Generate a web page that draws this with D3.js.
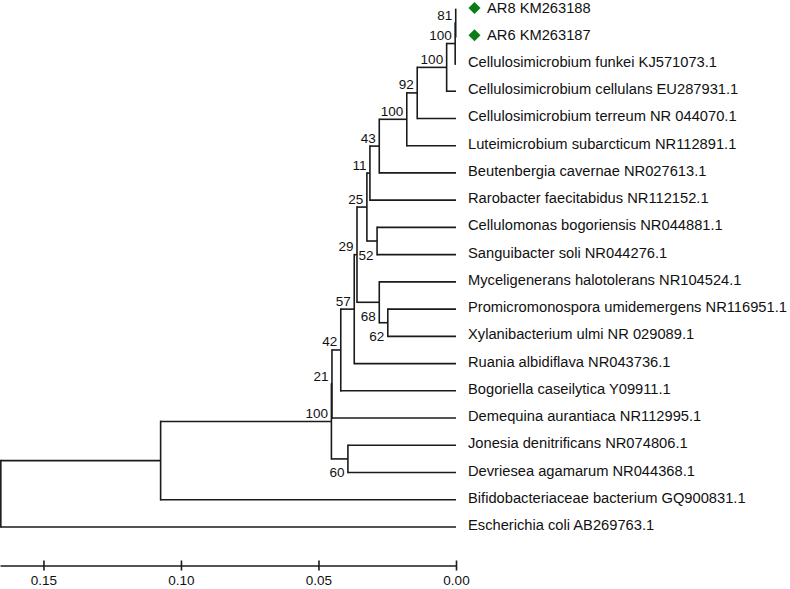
<!DOCTYPE html>
<html>
<head>
<meta charset="utf-8">
<script src="https://cdn.jsdelivr.net/npm/d3@7"></script>
<style>
  html, body { margin: 0; padding: 0; background: #fff; }
  svg { display: block; }
  text { font-family: "Liberation Sans", Arial, sans-serif; fill: #111; }
</style>
</head>
<body>
<svg id="chart" width="790" height="589"></svg>
<script>
// ---- Data ----
const leaves = [
  "AR8 KM263188",
  "AR6 KM263187",
  "Cellulosimicrobium funkei KJ571073.1",
  "Cellulosimicrobium cellulans EU287931.1",
  "Cellulosimicrobium terreum NR 044070.1",
  "Luteimicrobium subarcticum NR112891.1",
  "Beutenbergia cavernae NR027613.1",
  "Rarobacter faecitabidus NR112152.1",
  "Cellulomonas bogoriensis NR044881.1",
  "Sanguibacter soli NR044276.1",
  "Myceligenerans halotolerans NR104524.1",
  "Promicromonospora umidemergens NR116951.1",
  "Xylanibacterium ulmi NR 029089.1",
  "Ruania albidiflava NR043736.1",
  "Bogoriella caseilytica Y09911.1",
  "Demequina aurantiaca NR112995.1",
  "Jonesia denitrificans NR074806.1",
  "Devriesea agamarum NR044368.1",
  "Bifidobacteriaceae bacterium GQ900831.1",
  "Escherichia coli AB269763.1"
];
const highlighted = ["AR8 KM263188", "AR6 KM263187"];

// internal nodes: id, children (leaf names or node ids), height (distance), bootstrap
const nodeIds = ["n1","n2","n3","n4","n5","n6","n7","n8","n9","n10","n11","n12","n13","n14","n15","n17","n16","n18","n19"];
const nodeChildren = [
  ["AR8 KM263188", "AR6 KM263187"],
  ["n1", "Cellulosimicrobium funkei KJ571073.1"],
  ["n2", "Cellulosimicrobium cellulans EU287931.1"],
  ["n3", "Cellulosimicrobium terreum NR 044070.1"],
  ["n4", "Luteimicrobium subarcticum NR112891.1"],
  ["n5", "Beutenbergia cavernae NR027613.1"],
  ["n6", "Rarobacter faecitabidus NR112152.1"],
  ["Cellulomonas bogoriensis NR044881.1", "Sanguibacter soli NR044276.1"],
  ["n7", "n8"],
  ["Promicromonospora umidemergens NR116951.1", "Xylanibacterium ulmi NR 029089.1"],
  ["Myceligenerans halotolerans NR104524.1", "n10"],
  ["n9", "n11"],
  ["n12", "Ruania albidiflava NR043736.1"],
  ["n13", "Bogoriella caseilytica Y09911.1"],
  ["n14", "Demequina aurantiaca NR112995.1"],
  ["Jonesia denitrificans NR074806.1", "Devriesea agamarum NR044368.1"],
  ["n15", "n17"],
  ["n16", "Bifidobacteriaceae bacterium GQ900831.1"],
  ["n18", "Escherichia coli AB269763.1"]
];
const nodeHeights = [0.0001, 0.0003, 0.0034, 0.0141, 0.0179, 0.0279, 0.0313, 0.0287, 0.0324,
                     0.0248, 0.0279, 0.0360, 0.0370, 0.0419, 0.0451, 0.0393, 0.0453, 0.1074, 0.1655];
const nodeBootstrap = [81, 100, 100, 92, 100, 43, 11, 52, 25, 62, 68, 29, 57, 42, 21, 60, 100, null, null];

const axisTicks = [0.15, 0.10, 0.05, 0.00];

// ---- Layout ----
const svg = d3.select("#chart");
const x = d3.scaleLinear().domain([0.1658, 0]).range([0, 456]);
const y = d3.scalePoint().domain(leaves).range([9.5, 527]);

const info = {};
leaves.forEach(n => { info[n] = { h: 0, y: y(n), leaf: true }; });
nodeIds.forEach((id, i) => {
  const ch = nodeChildren[i];
  info[id] = {
    h: nodeHeights[i],
    y: (info[ch[0]].y + info[ch[1]].y) / 2,
    children: ch,
    bs: nodeBootstrap[i],
    leaf: false
  };
});
// upper/lower child determination for label placement
const isLower = {};
nodeIds.forEach((id, i) => {
  const ch = nodeChildren[i];
  const a = info[ch[0]], b = info[ch[1]];
  if (a.y > b.y) { isLower[ch[0]] = true; } else { isLower[ch[1]] = true; }
});

const g = svg.append("g");
const lineColor = "#1a1a1a";
const sw = 1.6;

nodeIds.forEach(id => {
  const n = info[id];
  const nx = x(n.h);
  const ys = n.children.map(c => info[c].y);
  g.append("line")
    .attr("x1", nx).attr("x2", nx)
    .attr("y1", d3.min(ys) - sw / 2).attr("y2", d3.max(ys) + sw / 2)
    .attr("stroke", lineColor).attr("stroke-width", sw);
  n.children.forEach(c => {
    const cn = info[c];
    g.append("line")
      .attr("x1", nx).attr("x2", x(cn.h))
      .attr("y1", cn.y).attr("y2", cn.y)
      .attr("stroke", lineColor).attr("stroke-width", sw);
  });
});

// bootstrap labels
nodeIds.forEach(id => {
  const n = info[id];
  if (n.bs == null) return;
  const below = !!isLower[id];
  g.append("text")
    .attr("x", x(n.h) - 3.5)
    .attr("y", n.y + (below ? 14 : -8))
    .attr("text-anchor", "end")
    .attr("dominant-baseline", "central")
    .style("font-size", "13.5px")
    .text(n.bs);
});

// leaf labels
leaves.forEach(name => {
  const ly = info[name].y;
  const hl = highlighted.includes(name);
  if (hl) {
    g.append("path")
      .attr("d", d3.symbol(d3.symbolSquare, 72)())
      .attr("transform", `translate(${x(0) + 18.5},${ly - 1.5}) rotate(45)`)
      .attr("fill", "#0a7d14");
  }
  g.append("text")
    .attr("x", x(0) + (hl ? 31 : 12))
    .attr("y", ly - 2)
    .attr("dominant-baseline", "central")
    .style("font-size", "14.7px")
    .text(name);
});

// axis
const axis = d3.axisBottom(x)
  .tickValues(axisTicks)
  .tickFormat(d3.format(".2f"))
  .tickSizeInner(5)
  .tickSizeOuter(0);
const ag = svg.append("g")
  .attr("transform", "translate(0,565.5)")
  .call(axis);
ag.select(".domain").attr("stroke", lineColor).attr("stroke-width", sw);
ag.selectAll(".tick line").attr("y1", -5).attr("y2", 5)
  .attr("stroke", lineColor).attr("stroke-width", sw);
ag.selectAll(".tick text")
  .attr("y", 14.5).attr("dy", null)
  .attr("dominant-baseline", "central")
  .style("font-size", "13.5px")
  .style("font-family", "'Liberation Sans', Arial, sans-serif")
  .attr("fill", "#111");
</script>
</body>
</html>
